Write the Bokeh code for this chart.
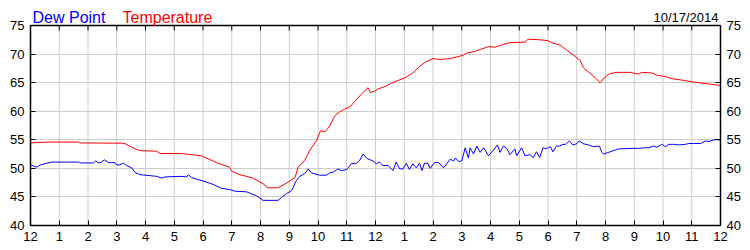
from bokeh.plotting import figure
from bokeh.models import Range1d, FixedTicker, LinearAxis, Label, Span
from bokeh.embed import file_html
from bokeh.resources import INLINE

title_date = "10/17/2014"
series_names = ["Dew Point", "Temperature"]
x_ticks = list(range(0, 25))
x_tick_labels = ["12", "1", "2", "3", "4", "5", "6", "7", "8", "9", "10", "11",
                 "12", "1", "2", "3", "4", "5", "6", "7", "8", "9", "10", "11", "12"]
y_ticks = [40, 45, 50, 55, 60, 65, 70, 75]

temp_hours = [0.0, 0.57, 1.67, 1.7, 3.2, 3.3, 3.6, 3.81, 4.39, 4.5, 5.25, 5.6, 5.95,
              6.47, 6.93, 7.0, 7.28, 7.74, 8.09, 8.26, 8.61, 8.9, 9.2, 9.31, 9.54,
              9.72, 9.95, 10.09, 10.24, 10.41, 10.58, 10.76, 10.93, 11.1, 11.28,
              11.51, 11.74, 11.82, 11.97, 12.09, 12.38, 12.55, 12.84, 13.01, 13.3,
              13.53, 13.73, 14.0, 14.25, 14.6, 14.83, 15.06, 15.18, 15.41, 15.64,
              15.93, 16.16, 16.39, 16.68, 17.2, 17.31, 17.71, 18.0, 18.12, 18.41,
              18.65, 18.94, 19.12, 19.23, 19.47, 19.64, 19.81, 19.99, 20.16, 20.4,
              20.86, 21.03, 21.15, 21.27, 21.62, 21.79, 22.14, 22.31, 22.72, 23.07,
              23.53, 24.0]
temp = [54.45, 54.6, 54.6, 54.45, 54.4, 54.3, 53.5, 53.1, 53.0, 52.6, 52.6, 52.4, 52.2,
        51.0, 50.2, 49.5, 48.9, 48.3, 47.3, 46.6, 46.6, 47.4, 48.4, 50.2, 51.4,
        53.2, 54.9, 56.6, 56.4, 57.4, 59.2, 59.9, 60.4, 60.7, 61.7,
        63.0, 64.1, 63.3, 63.5, 63.9, 64.4, 64.9, 65.5, 65.8, 66.7,
        67.8, 68.6, 69.2, 69.06, 69.2, 69.5, 69.8, 70.2, 70.4, 70.8,
        71.3, 71.2, 71.6, 72.0, 72.1, 72.6, 72.5, 72.35, 72.0, 71.6,
        70.7, 69.6, 68.9, 67.6, 66.6, 65.9, 65.0, 66.0, 66.6, 66.8,
        66.8, 66.6, 66.5, 66.8, 66.7, 66.3, 66.0, 65.7, 65.4, 65.1,
        64.8, 64.5]

dew_hours = [0.0, 0.22, 0.34, 0.57, 0.74, 1.67, 1.72, 2.19, 2.27, 2.36, 2.45, 2.57,
             2.71, 2.94, 3.0, 3.11, 3.23, 3.34, 3.52, 3.63, 3.81, 4.39, 4.56, 4.68,
             5.2, 5.43, 5.49, 5.6, 5.72, 6.0, 6.35, 6.64, 6.93, 7.11, 7.51, 7.86,
             8.09, 8.61, 8.73, 8.91, 9.08, 9.25, 9.37, 9.54, 9.66, 9.77, 10.06,
             10.29, 10.41, 10.53, 10.7, 10.82, 11.0, 11.16, 11.34, 11.45, 11.57,
             11.71, 11.91, 12.03, 12.14, 12.26, 12.43, 12.61, 12.72, 12.84, 12.96,
             13.07, 13.18, 13.3, 13.42, 13.53, 13.62, 13.7, 13.82, 13.9, 14.05,
             14.2, 14.37, 14.6, 14.72, 14.78, 14.89, 15.0, 15.12, 15.23, 15.29,
             15.41, 15.52, 15.64, 15.76, 15.93, 16.1, 16.24, 16.33, 16.45, 16.56,
             16.68, 16.85, 16.91, 17.08, 17.2, 17.37, 17.49, 17.6, 17.71, 17.83,
             17.94, 18.08, 18.17, 18.29, 18.4, 18.52, 18.62, 18.74, 18.86, 19.0,
             19.09, 19.23, 19.41, 19.58, 19.79, 19.87, 19.93, 20.16, 20.45, 20.98,
             21.15, 21.33, 21.5, 21.67, 21.79, 21.97, 22.08, 22.2, 22.37, 22.55,
             22.78, 22.9, 23.06, 23.3, 23.48, 23.6, 23.77, 23.94, 24.0]
dew = [50.6, 50.2, 50.6, 50.9, 51.1, 51.1, 50.95, 50.95, 51.3, 50.95, 51.05, 51.5,
       51.0, 51.0, 50.6, 50.6, 50.9, 50.5, 50.1, 49.3, 48.9, 48.6, 48.3, 48.5,
       48.6, 48.5, 48.9, 48.4, 48.2, 47.8, 47.2, 46.5, 46.3, 46.0, 45.9, 45.2,
       44.4, 44.4, 44.9, 45.6, 46.1, 47.9, 48.6, 49.1, 49.9, 49.2, 48.8,
       48.8, 49.2, 49.35, 49.9, 49.6, 49.8, 50.8, 50.9, 51.4, 52.5,
       51.7, 51.3, 50.8, 51.1, 50.5, 50.5, 49.6, 51.1, 49.9, 49.9,
       50.9, 49.8, 50.8, 50.1, 50.9, 49.6, 50.9, 50.9, 50.0, 51.0,
       51.0, 50.1, 51.6, 51.3, 51.8, 51.2, 51.3, 53.6, 51.8, 53.6,
       52.5, 53.9, 52.8, 53.6, 52.2, 53.2, 54.1, 52.8, 53.9, 53.5,
       52.4, 53.4, 52.2, 53.6, 52.2, 52.4, 51.9, 52.9, 51.9, 53.6,
       53.4, 53.8, 52.9, 53.9, 53.9, 54.2, 54.2, 54.8, 54.1, 54.3,
       54.8, 54.3, 54.1, 53.8, 53.9, 52.8, 52.5, 52.9, 53.4, 53.5,
       53.5, 53.6, 53.6, 53.9, 53.7, 54.2, 53.8, 54.2, 54.2, 54.1,
       54.2, 54.35, 54.35, 54.35, 54.8, 54.7, 55.0, 55.0, 54.9]

FONT = "Liberation Sans"
W, H = 750, 250
BORDER_L, BORDER_R, BORDER_B = 30, 30, 25
HEADER_PX = 25            # space above the 75 line that holds the header texts
Y_MIN, Y_MAX = y_ticks[0], y_ticks[-1]
PLOT_PX = H - BORDER_B - HEADER_PX
PX_PER_UNIT = PLOT_PX / (Y_MAX - Y_MIN)
Y_TOP = Y_MAX + HEADER_PX / PX_PER_UNIT
TICK_PX = 5

p = figure(width=W, height=H, output_backend="svg", toolbar_location=None,
           x_range=Range1d(0, 24), y_range=Range1d(Y_MIN, Y_TOP),
           min_border_left=BORDER_L, min_border_right=BORDER_R, min_border_top=0,
           min_border_bottom=BORDER_B)
p.outline_line_color = None
p.background_fill_color = "white"
p.border_fill_color = "white"

xt = FixedTicker(ticks=x_ticks)
yt = FixedTicker(ticks=y_ticks)
overrides = {i: s for i, s in zip(x_ticks, x_tick_labels)}

p.xaxis.ticker = xt
p.yaxis.ticker = yt
p.xgrid.visible = False
p.ygrid.ticker = yt
p.ygrid.grid_line_color = "#cccccc"
p.xaxis.major_label_overrides = overrides

# vertical grid lines, limited to the 40..75 band
p.segment(x0=x_ticks, y0=[Y_MIN] * len(x_ticks), x1=x_ticks, y1=[Y_MAX] * len(x_ticks),
          line_color="#cccccc", line_width=1)


def style(ax):
    ax.axis_line_color = "black"
    ax.axis_line_width = 1.5
    ax.major_tick_in = TICK_PX
    ax.major_tick_out = 0
    ax.major_tick_line_color = "black"
    ax.minor_tick_line_color = None
    ax.major_label_text_font = FONT
    ax.major_label_text_font_size = "13px"
    ax.major_label_text_color = "black"
    ax.major_label_standoff = 6


style(p.xaxis[0])
style(p.yaxis[0])
p.yaxis[0].bounds = (Y_MIN, Y_MAX)

right = LinearAxis(ticker=yt, bounds=(Y_MIN, Y_MAX))
style(right)
p.add_layout(right, "right")

# top border with inward ticks
p.add_layout(Span(location=Y_MAX, dimension="width", line_color="black", line_width=1.5))
tick_len = TICK_PX / PX_PER_UNIT
p.segment(x0=x_ticks, y0=[Y_MAX] * len(x_ticks), x1=x_ticks,
          y1=[Y_MAX - tick_len] * len(x_ticks), line_color="black", line_width=1)

p.line(dew_hours, dew, line_color="#0000ff", line_width=1)
p.line(temp_hours, temp, line_color="#ff0000", line_width=1)

# header texts (baseline about 7.7 px above the top border)
BASE_OFF = 7.7
p.add_layout(Label(x=0, y=Y_MAX, x_offset=2, y_offset=BASE_OFF, text=series_names[0],
                   text_color="#0000ff", text_font=FONT, text_font_size="16px",
                   text_baseline="alphabetic", text_align="left"))
p.add_layout(Label(x=0, y=Y_MAX, x_offset=92, y_offset=BASE_OFF, text=series_names[1],
                   text_color="#ff0000", text_font=FONT, text_font_size="16px",
                   text_baseline="alphabetic", text_align="left"))
p.add_layout(Label(x=24, y=Y_MAX, x_offset=-2, y_offset=BASE_OFF, text=title_date,
                   text_color="black", text_font=FONT, text_font_size="13px",
                   text_baseline="alphabetic", text_align="right"))

open("out.html", "w").write(file_html(p, INLINE))
